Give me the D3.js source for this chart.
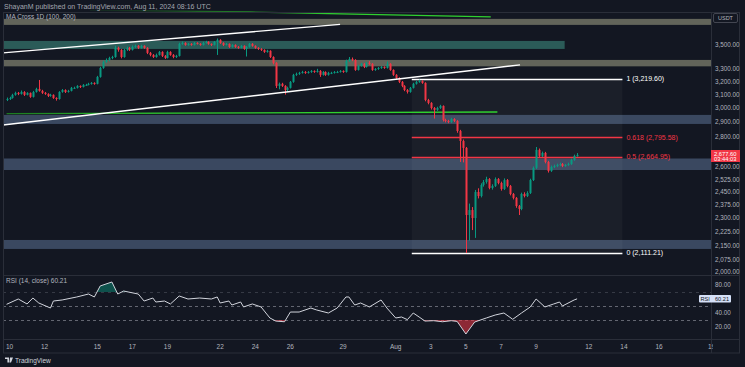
<!DOCTYPE html>
<html><head><meta charset="utf-8">
<script src="https://cdn.jsdelivr.net/npm/d3@7"></script>
<style>
html,body{margin:0;padding:0;background:#131722;}
svg{display:block;font-family:"Liberation Sans",Arial,sans-serif;}
</style></head><body>
<svg id="c" width="745" height="367"></svg>
<script>
// ---------- DATA ----------
const startTime = Date.UTC(2024, 6, 9, 20); // first 4h candle
const firstOpen = 3060;
const closes = [3067,3075,3098,3113,3105,3120,3098,3113,3083,3120,
3143,3128,3113,3105,3090,3098,3075,3067,3120,3135,
3120,3128,3151,3151,3166,3158,3174,3174,3182,3189,
3182,3236,3307,3356,3372,3388,3396,3472,3455,3396,
3455,3472,3455,3480,3489,3472,3489,3472,3430,3413,
3396,3413,3438,3405,3388,3438,3413,3396,3405,3506,
3514,3497,3506,3497,3514,3506,3497,3514,3523,3506,
3497,3523,3540,3514,3497,3506,3480,3497,3480,3472,
3489,3463,3480,3506,3489,3472,3463,3455,3438,3447,
3396,3348,3166,3182,3166,3135,3151,3197,3252,3260,
3268,3275,3268,3275,3283,3275,3283,3252,3275,3252,
3268,3268,3275,3275,3283,3275,3364,3380,3372,3291,
3324,3340,3315,3348,3340,3291,3299,3307,3315,3307,
3340,3291,3252,3228,3197,3166,3135,3120,3151,3182,
3197,3204,3189,3060,3038,3001,2987,3001,3016,2915,
2908,2901,2922,2908,2838,2770,2724,2315,2343,2298,
2448,2424,2490,2508,2526,2472,2484,2526,2502,2466,
2520,2484,2436,2413,2366,2349,2436,2424,2442,2520,
2595,2711,2672,2691,2633,2576,2601,2607,2614,2620,
2607,2614,2620,2646,2672,2678];
const highs = [3078,3084,3106,3122,3120,3131,3126,3118,3116,3128,
3152,3212,3136,3120,3110,3106,3102,3080,3126,3142,
3140,3136,3158,3160,3172,3170,3180,3182,3190,3196,
3194,3244,3316,3366,3384,3398,3406,3490,3482,3462,
3464,3482,3480,3492,3500,3496,3498,3494,3478,3438,
3420,3424,3446,3444,3412,3448,3444,3420,3414,3516,
3526,3520,3514,3512,3522,3520,3512,3524,3532,3528,
3510,3530,3552,3546,3520,3514,3510,3504,3502,3488,
3496,3494,3488,3514,3512,3494,3478,3470,3460,3456,
3452,3402,3354,3192,3190,3172,3160,3204,3260,3270,
3276,3284,3282,3282,3290,3288,3300,3290,3282,3280,
3276,3276,3282,3284,3290,3288,3374,3396,3392,3378,
3332,3348,3346,3356,3362,3346,3306,3314,3322,3320,
3360,3346,3296,3258,3234,3204,3172,3142,3158,3190,
3206,3214,3210,3194,3068,3044,3008,3010,3024,3020,
2924,2916,2930,2928,2914,2846,2780,2730,2380,2360,
2460,2470,2500,2520,2540,2532,2494,2536,2532,2510,
2530,2526,2490,2442,2418,2372,2444,2446,2452,2528,
2604,2730,2720,2700,2698,2640,2610,2616,2622,2628,
2626,2620,2628,2654,2680,2690];
const lows = [3052,3060,3070,3092,3096,3100,3090,3094,3076,3078,
3115,3122,3105,3098,3082,3084,3068,3055,3062,3114,
3112,3115,3124,3144,3146,3150,3154,3166,3170,3176,
3175,3178,3230,3300,3348,3362,3378,3390,3440,3385,
3390,3446,3446,3450,3472,3462,3466,3464,3420,3402,
3388,3390,3408,3396,3380,3384,3406,3386,3388,3400,
3498,3490,3490,3490,3492,3500,3490,3492,3508,3498,
3488,3492,3413,3506,3488,3492,3472,3474,3472,3464,
3468,3456,3400,3474,3482,3464,3455,3446,3430,3432,
3388,3336,3150,3140,3158,3100,3120,3146,3190,3244,
3252,3262,3260,3262,3268,3268,3270,3236,3246,3244,
3246,3258,3262,3266,3270,3268,3270,3356,3362,3284,
3286,3318,3306,3310,3332,3284,3284,3292,3300,3300,
3302,3284,3244,3220,3188,3156,3126,3108,3114,3146,
3176,3190,3182,3050,3028,2990,2925,2980,2994,2904,
2898,2892,2894,2900,2826,2633,2630,2111,2175,2232,
2190,2410,2416,2480,2498,2464,2462,2478,2494,2456,
2460,2476,2428,2404,2356,2315,2342,2416,2418,2436,
2514,2588,2662,2664,2624,2566,2570,2594,2600,2606,
2600,2602,2608,2614,2640,2666];

const rsiIdx = [0,4,7,9,11,15,16,19,24,28,30,32,36,38,40,45,47,50,51,54,56,59,62,66,70,72,73,76,77,80,81,84,87,90,92,95,97,100,104,106,110,113,116,117,119,121,124,128,130,133,135,137,139,141,143,146,149,152,154,157,160,164,167,170,173,176,179,181,184,187,189,190,194,195];
const rsiVal = [52.4,60,52.9,61.4,54.3,47.1,57.1,58.6,62.9,67.1,62.9,78.6,84.3,67.1,71.4,67.1,57.1,61.4,55.7,57.1,52.9,64.3,60,61.4,60,62.9,54.3,57.1,51.4,55.7,48.6,52.9,48.6,32.9,28.5,27.5,41.4,41.4,47.1,44.3,40,47.1,62.9,62.9,51.4,54.3,48.6,58.6,47.1,32.9,34.3,30.5,40,34.3,28.5,29,27.5,29,28,10,27.1,32.9,37.1,40,31,40,48.6,60,48.6,52.9,55.7,50,58.6,60.21];

// zones: [top price, bottom price, end date or null for full width, colour key]
const zoneTop    = [3725, 3531, 3372, 2951, 2655, 2179];
const zoneBottom = [3671, 3463, 3320, 2887, 2582, 2132];
const zoneEnd    = [null, "2024-08-10T15:00Z", null, null, null, null];
const zoneKind   = ["olive","teal","olive","blue","blue","blue"];

const fibStart = "2024-08-01T22:00Z", fibEnd = "2024-08-13T22:00Z";
const fibPrices = [3219.60, 2795.58, 2664.95, 2111.21];
const fibLabels = ["1 (3,219.60)", "0.618 (2,795.58)", "0.5 (2,664.95)", "0 (2,111.21)"];
const fibKind   = ["white","red","red","white"];

// trend lines: [startDate, startPrice, endDate, endPrice]
const channelUpper = ["2024-07-09T15:00Z", 3430, "2024-07-28T20:00Z", 3676];
const channelLower = ["2024-07-09T15:00Z", 2880, "2024-08-08T02:00Z", 3332];
const maLowDates = ["2024-07-09T20:00Z", "2024-08-06T19:00Z"];
const maLowPrices = [2960, 2972];
const maTopDates = ["2024-07-14T14:00Z", "2024-07-23T17:00Z", "2024-08-06T10:00Z"];
const maTopPrices = [3802, 3788, 3743];

const priceTicks = [3500,3300,3200,3100,3000,2900,2800,2600,2525,2450,2375,2300,2225,2150,2075,2000];
const timeTickDates = ["2024-07-10","2024-07-12","2024-07-15","2024-07-17","2024-07-19","2024-07-22","2024-07-24","2024-07-26","2024-07-29","2024-08-01","2024-08-03","2024-08-05","2024-08-07","2024-08-09","2024-08-12","2024-08-14","2024-08-16","2024-08-19"];
const timeTickLabels = ["10","12","15","17","19","22","24","26","29","Aug","3","5","7","9","12","14","16","19"];
const rsiTicks = [80,40,20];
const lastPrice = 2677.60, countdown = "03:44:03", lastRsi = "60.21";

// ---------- LAYOUT ----------
const W = 745, H = 367;
const paneL = 3, paneR = 711, paneT = 12.5, mainB = 275, rsiB = 339, frameB = 353;
const GREEN = "#089981", RED = "#f23645", TXT = "#b2b5be", GRID = "#2a2e39";

const svg = d3.select("#c");
svg.append("rect").attr("width", W).attr("height", H).attr("fill", "#131722");
const defs = svg.append("defs");
defs.append("clipPath").attr("id", "mainClip").append("rect")
  .attr("x", paneL).attr("y", paneT).attr("width", paneR - paneL).attr("height", mainB - paneT);
defs.append("clipPath").attr("id", "rsiClip").append("rect")
  .attr("x", paneL).attr("y", mainB).attr("width", paneR - paneL).attr("height", rsiB - mainB);
defs.append("clipPath").attr("id", "timeClip").append("rect")
  .attr("x", 0).attr("y", rsiB).attr("width", 713).attr("height", frameB - rsiB);

const x = d3.scaleUtc()
  .domain([new Date(Date.UTC(2024, 6, 10)), new Date(Date.UTC(2024, 7, 16))])
  .range([9.5, 659]);
const y = d3.scaleLog().domain([2111.21, 3219.60]).range([253, 79]);
const yr = d3.scaleLinear().domain([0, 100]).range([341, 271]);
const D = s => new Date(s);

// ---------- MAIN PANE ----------
const main = svg.append("g").attr("clip-path", "url(#mainClip)");
const zoneColor = {olive: "#62645a", teal: "#2b5b58", blue: "#3a4860"};
zoneTop.forEach((t, i) => {
  const xe = zoneEnd[i] ? x(D(zoneEnd[i])) : paneR;
  main.append("rect").attr("x", paneL).attr("y", y(t))
    .attr("width", xe - paneL).attr("height", y(zoneBottom[i]) - y(t))
    .attr("fill", zoneColor[zoneKind[i]]);
});

// fib box
const fx0 = x(D(fibStart)), fx1 = x(D(fibEnd));
main.append("rect").attr("x", fx0).attr("y", y(fibPrices[0]))
  .attr("width", fx1 - fx0).attr("height", y(fibPrices[3]) - y(fibPrices[0]))
  .attr("fill", "rgba(255,255,255,0.035)");

// MA lines
const grad = defs.append("linearGradient").attr("id", "gTop").attr("gradientUnits", "userSpaceOnUse")
  .attr("x1", x(D(maTopDates[0]))).attr("x2", 330).attr("y1", 0).attr("y2", 0);
grad.append("stop").attr("offset", 0).attr("stop-color", "#1f8f1f").attr("stop-opacity", 0.1);
grad.append("stop").attr("offset", 1).attr("stop-color", "#2fd12f").attr("stop-opacity", 1);
const lineGen = d3.line().x(d => x(d[0])).y(d => y(d[1])).curve(d3.curveMonotoneX);
svg.append("path").datum(maTopDates.map((d, i) => [D(d), maTopPrices[i]]))
  .attr("d", lineGen).attr("fill", "none").attr("stroke", "url(#gTop)").attr("stroke-width", 1.3);

const grad2 = defs.append("linearGradient").attr("id", "gLow").attr("gradientUnits", "userSpaceOnUse")
  .attr("x1", paneL).attr("x2", 150).attr("y1", 0).attr("y2", 0);
grad2.append("stop").attr("offset", 0).attr("stop-color", "#1f9f1f").attr("stop-opacity", 0.7);
grad2.append("stop").attr("offset", 1).attr("stop-color", "#2fd12f").attr("stop-opacity", 1);
main.append("path").datum(maLowDates.map((d, i) => [D(d), maLowPrices[i]]))
  .attr("d", lineGen).attr("fill", "none").attr("stroke", "url(#gLow)").attr("stroke-width", 1.3);

// fib lines
fibPrices.forEach((p, i) => {
  main.append("line").attr("x1", fx0).attr("x2", fx1)
    .attr("y1", Math.round(y(p)) + 0.5).attr("y2", Math.round(y(p)) + 0.5)
    .attr("stroke", fibKind[i] === "red" ? RED : "#ffffff").attr("stroke-width", 1.3);
});

// candles
const candles = closes.map((c, i) => ({
  t: new Date(startTime + i * 4 * 3600e3),
  o: i === 0 ? firstOpen : closes[i - 1], c, h: highs[i], l: lows[i]
}));
const cg = main.append("g");
candles.forEach(d => {
  const cx = Math.round(x(d.t));
  const col = d.c >= d.o ? GREEN : RED;
  cg.append("line").attr("x1", cx + 0.5).attr("x2", cx + 0.5)
    .attr("y1", y(d.h)).attr("y2", y(d.l)).attr("stroke", col).attr("stroke-width", 1);
  const top = y(Math.max(d.o, d.c)), bot = y(Math.min(d.o, d.c));
  cg.append("rect").attr("x", cx - 0.5).attr("width", 2)
    .attr("y", top).attr("height", Math.max(1, bot - top)).attr("fill", col);
});

// channel lines
[channelUpper, channelLower].forEach(L => {
  main.append("line").attr("x1", x(D(L[0]))).attr("y1", y(L[1]))
    .attr("x2", x(D(L[2]))).attr("y2", y(L[3]))
    .attr("stroke", "#ffffff").attr("stroke-width", 1.4);
});

// fib labels
fibPrices.forEach((p, i) => {
  svg.append("text").attr("x", fx1 + 4).attr("y", y(p) + 2.4)
    .attr("font-size", 7).attr("fill", fibKind[i] === "red" ? RED : "#ffffff")
    .text(fibLabels[i]);
});

// ---------- RSI PANE ----------
const rsi = svg.append("g").attr("clip-path", "url(#rsiClip)");
const rsiPts = rsiIdx.map((k, i) => [candles[k].t, rsiVal[i]]);
[[70, "3,4", 0.35], [50, "3,3", 0.8], [30, "3,3", 0.8]].forEach(([v, da, op]) => {
  rsi.append("line").attr("x1", paneL).attr("x2", paneR)
    .attr("y1", Math.round(yr(v)) + 0.5).attr("y2", Math.round(yr(v)) + 0.5)
    .attr("stroke", "#787b86").attr("stroke-opacity", op).attr("stroke-dasharray", da);
});
defs.append("clipPath").attr("id", "obClip").append("rect")
  .attr("x", 0).attr("y", 0).attr("width", W).attr("height", yr(70));
defs.append("clipPath").attr("id", "osClip").append("rect")
  .attr("x", 0).attr("y", yr(30)).attr("width", W).attr("height", H);
const areaOB = d3.area().x(d => x(d[0])).y0(yr(70)).y1(d => yr(d[1]));
const areaOS = d3.area().x(d => x(d[0])).y0(yr(30)).y1(d => yr(d[1]));
rsi.append("g").attr("clip-path", "url(#obClip)").append("path").datum(rsiPts)
  .attr("d", areaOB).attr("fill", "rgba(8,153,129,0.45)");
rsi.append("g").attr("clip-path", "url(#osClip)").append("path").datum(rsiPts)
  .attr("d", areaOS).attr("fill", "rgba(242,54,69,0.55)");
rsi.append("path").datum(rsiPts)
  .attr("d", d3.line().x(d => x(d[0])).y(d => yr(d[1])))
  .attr("fill", "none").attr("stroke", "#d1d4dc").attr("stroke-width", 1);

// ---------- FRAME / SEPARATORS ----------
svg.append("rect").attr("x", paneL + 0.5).attr("y", paneT).attr("width", 736).attr("height", frameB - paneT)
  .attr("fill", "none").attr("stroke", GRID);
svg.append("line").attr("x1", paneL).attr("x2", 740).attr("y1", mainB + 0.5).attr("y2", mainB + 0.5).attr("stroke", GRID);
svg.append("line").attr("x1", paneL).attr("x2", 740).attr("y1", rsiB + 0.5).attr("y2", rsiB + 0.5).attr("stroke", GRID);
svg.append("line").attr("x1", paneR + 0.5).attr("x2", paneR + 0.5).attr("y1", paneT).attr("y2", frameB).attr("stroke", GRID);

// ---------- TEXT ----------
svg.append("text").attr("x", 4).attr("y", 8.5).attr("font-size", 7).attr("fill", "#a3a6af")
  .text("ShayanM published on TradingView.com, Aug 11, 2024 08:16 UTC");
svg.append("text").attr("x", 6).attr("y", 19).attr("font-size", 6.5).attr("fill", TXT)
  .text("MA Cross  1D  (100, 200)");
svg.append("text").attr("x", 6).attr("y", 283).attr("font-size", 6.5).attr("fill", TXT)
  .text("RSI (14, close)  " + lastRsi);

// USDT box
svg.append("rect").attr("x", 713.5).attr("y", 13.5).attr("width", 24).attr("height", 9).attr("rx", 1.5)
  .attr("fill", "none").attr("stroke", "#434651");
svg.append("text").attr("x", 725.5).attr("y", 20).attr("text-anchor", "middle")
  .attr("font-size", 5.5).attr("fill", TXT).text("USDT");

// price axis
const fmt = d3.format(",.2f");
priceTicks.forEach(p => {
  svg.append("text").attr("x", 715).attr("y", Math.min(y(p) + 2.3, 273.5)).attr("font-size", 6.3)
    .attr("fill", TXT).text(fmt(p));
});
// last price box
const ly = y(lastPrice);
svg.append("rect").attr("x", 711).attr("y", ly - 5).attr("width", 29).attr("height", 12).attr("fill", RED);
svg.append("text").attr("x", 714).attr("y", ly + 1).attr("font-size", 5.8).attr("fill", "#fff").text(fmt(lastPrice));
svg.append("text").attr("x", 714).attr("y", ly + 6.3).attr("font-size", 5.8).attr("fill", "#fff").text(countdown);

// rsi axis
rsiTicks.forEach(v => {
  svg.append("text").attr("x", 715).attr("y", yr(v) + 2.3).attr("font-size", 6.3).attr("fill", TXT).text(fmt(v));
});
const ry = yr(+lastRsi);
svg.append("rect").attr("x", 699).attr("y", ry - 3.8).attr("width", 32).attr("height", 7.5).attr("rx", 1).attr("fill", "#d5e0f7");
svg.append("text").attr("x", 700.5).attr("y", ry + 2).attr("font-size", 5.6).attr("fill", "#131722").text("RSI");
svg.append("text").attr("x", 715).attr("y", ry + 2).attr("font-size", 5.6).attr("fill", "#131722").text(lastRsi);

// time axis
const tg = svg.append("g").attr("clip-path", "url(#timeClip)");
timeTickDates.forEach((d, i) => {
  tg.append("text").attr("x", x(new Date(d + "T00:00Z"))).attr("y", 348.5)
    .attr("text-anchor", "middle").attr("font-size", 6.5).attr("fill", TXT).text(timeTickLabels[i]);
});

// footer logo
svg.append("path").attr("d", "M5 357.5h4v5h-1.6v-3.4H5z M10 357.5h3l-2 5h-1.6z").attr("fill", "#d1d4dc");
svg.append("text").attr("x", 15).attr("y", 362.5).attr("font-size", 6.5).attr("fill", "#d1d4dc").text("TradingView");
</script>
</body></html>
